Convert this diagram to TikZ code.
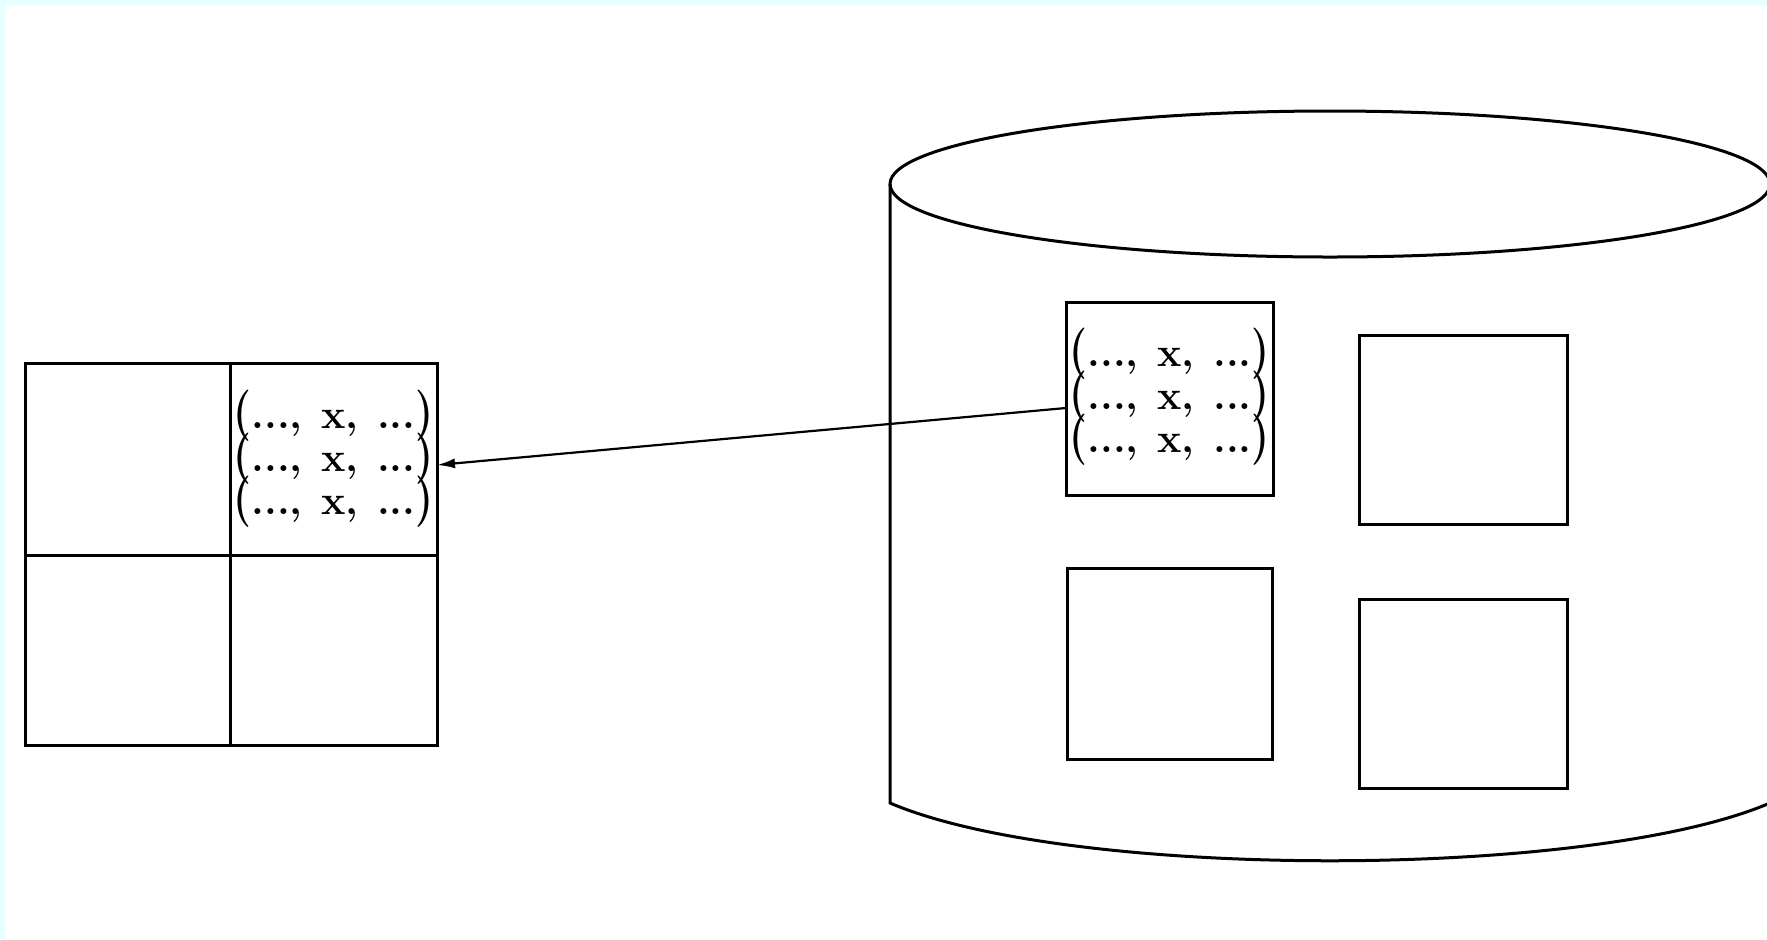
\documentclass[tikz,border=0pt]{standalone}
\usetikzlibrary{arrows.meta}
\definecolor{edgecyan}{HTML}{E8FFFF}
\newcommand\mytup{\smash{\scalebox{1}[1.25]{(}}...,\hspace{0.08em} x,\hspace{0.08em} ...\smash{\scalebox{1}[1.25]{)}}}
\begin{document}
\begin{tikzpicture}[x=0.5pt,y=-0.5pt,
  cellbox/.style={draw,line width=1.5pt,inner sep=0pt,outer sep=0pt},
  tuple/.style={font=\fontsize{20.5}{21.6}\selectfont\bfseries,align=center,inner sep=0pt},
  shapeline/.style={line width=1.5pt},
  arrowline/.style={line width=1.1pt,-{Latex[length=9pt,width=5pt]}}]
\useasboundingbox (0,0) rectangle (1767,939);
\fill[edgecyan] (0,0) rectangle (1767,939);
\fill[white] (6,5) rectangle (1767,939);
% left grid
\node[cellbox,minimum width=102.5pt,minimum height=96pt] (c11) at (127.5,459) {};
\node[cellbox,minimum width=103.5pt,minimum height=96pt] (c12) at (333.5,459) {};
\node[cellbox,minimum width=102.5pt,minimum height=95pt] (c21) at (127.5,650) {};
\node[cellbox,minimum width=103.5pt,minimum height=95pt] (c22) at (333.5,650) {};
\node[tuple] (t12) at ([yshift=-3.8pt]c12.center) {\mytup\\\mytup\\\mytup};
% cylinder
\draw[shapeline] (1330,184) ellipse [x radius=220pt,y radius=36.5pt];
\draw[shapeline] (890,184) -- (890,803)
  .. controls (1070,880) and (1590,880) .. (1770,803) -- (1770,184);
% boxes in cylinder
\node[cellbox,minimum width=103.5pt,minimum height=96.5pt] (rb1) at (1169.5,398.5) {};
\node[tuple] (t1) at ([yshift=-3pt]rb1.center) {\mytup\\\mytup\\\mytup};
\node[cellbox,minimum width=104pt,minimum height=94.5pt] (rb2) at (1463,429.5) {};
\node[cellbox,minimum width=102.5pt,minimum height=95.5pt] (rb3) at (1169.5,663.5) {};
\node[cellbox,minimum width=104pt,minimum height=94.5pt] (rb4) at (1463,693.5) {};
% arrow
\draw[arrowline] ([yshift=-4.75pt]rb1.west) -- ([yshift=-3pt]c12.east);
\end{tikzpicture}
\end{document}
